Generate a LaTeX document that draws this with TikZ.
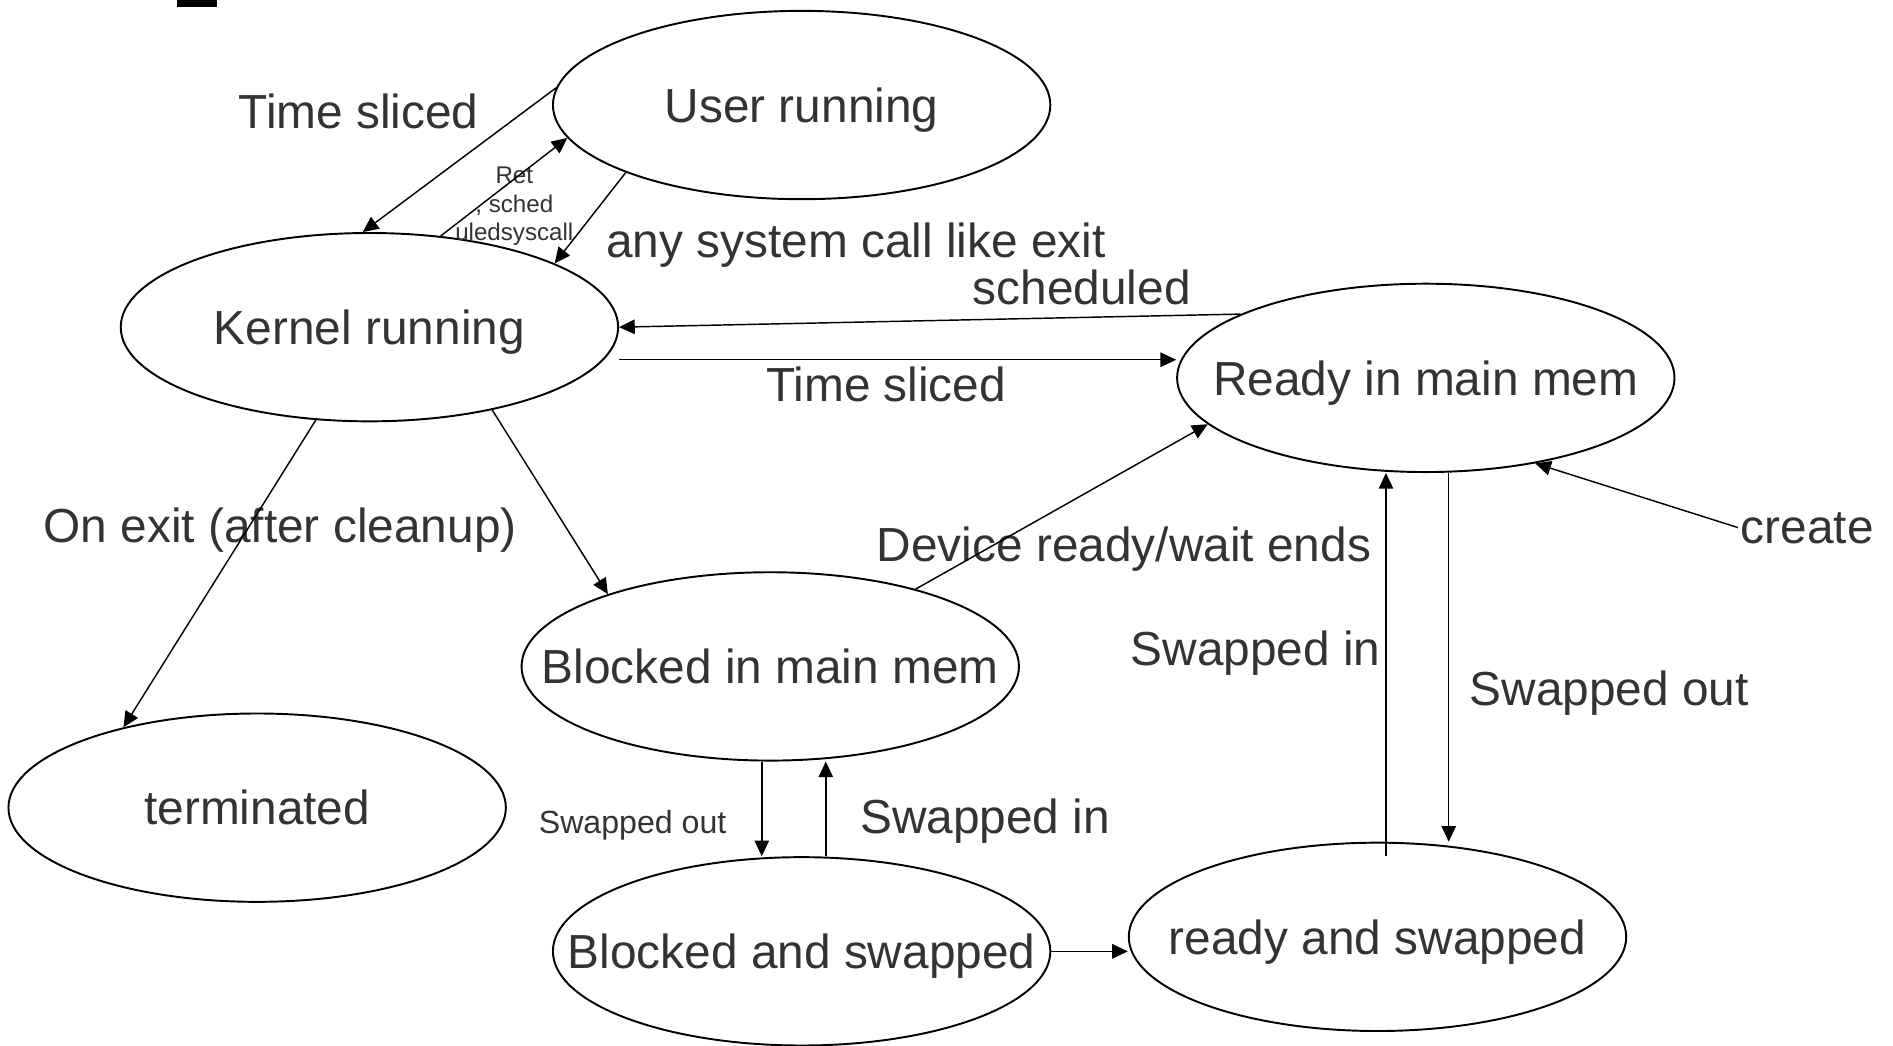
\documentclass[tikz,border=0pt]{standalone}
\usepackage{fontspec}
\setmainfont{Liberation Sans}
\usetikzlibrary{arrows.meta,shapes.geometric}

\begin{document}
\begin{tikzpicture}[x=.5pt,y=-.5pt,
  state/.style={draw,ellipse,line width=.8pt,minimum width=206pt,minimum height=78pt,inner sep=0pt},
  lbl/.style={text=black!80,font=\fontsize{19.8}{23}\selectfont,inner sep=1pt,text depth=0pt},
  tinylbl/.style={text=black!80,font=\fontsize{10}{11.75}\selectfont,inner sep=0pt,align=center},
  tr/.style={line width=.6pt,-{Triangle[length=6.5pt,width=6pt]}}]
\path[use as bounding box] (0,0) rectangle (1568,866);
\fill (147,0) rectangle (180,6);

% process states
\node[state,label={[lbl]center:User running}] (user) at (664,87) {};
\node[state,label={[lbl]center:Kernel running}] (kern) at (306,271) {};
\node[state,label={[lbl]center:Ready in main mem}] (ready) at (1181,313) {};
\node[state,label={[lbl]center:Blocked in main mem}] (blkm) at (638,552) {};
\node[state,label={[lbl]center:terminated}] (term) at (213,669) {};
\node[state,label={[lbl]center:Blocked and swapped}] (blks) at (664,788) {};
\node[state,label={[lbl]center:ready and swapped}] (rdys) at (1141,776) {};

% transition labels
\node[lbl] (tsl1) at (297,92) {Time sliced};
\node[tinylbl] (ret) at (426,171) {Ret\\, sched\\uledsyscall};
\node[lbl] (sysc) at (709,199) {any system call like exit};
\node[lbl] (sched) at (896,238) {scheduled};
\node[lbl] (tsl2) at (734,318) {Time sliced};
\node[lbl] (onexit) at (232,435) {On exit (after cleanup)};
\node[lbl] (devrdy) at (931,451) {Device ready/wait ends};
\node[lbl] (create) at (1497,437) {create};
\node[lbl] (swin1) at (1040,537) {Swapped in};
\node[lbl] (swout1) at (1333,570) {Swapped out};
\node[lbl,font=\fontsize{13.3}{16}\selectfont] (swout2) at (524,681) {Swapped out};
\node[lbl] (swin2) at (816,676) {Swapped in};

% transitions
\draw[tr] (user.176) -- (kern.94);
\draw[tr] (kern.52) -- (user.188);
\draw[tr] (user.201) -- (kern.19);
\draw[tr] (ready.161) -- (kern.east);
\coordinate (ts) at ([yshift=-13.5pt]kern.east);
\draw[tr] (ts) -- (ts -| ready.west);
\draw[tr] (kern.240) -- (term.149);
\draw[tr] (kern.326) -- (blkm.156);
\draw[tr] (blkm.28) -- (ready.192);
\draw[tr] (create.west) -- (ready.322);
\coordinate (rsin) at ([xshift=3.5pt,yshift=-6pt]rdys.north);
\draw[tr] (rsin) -- (rsin |- ready.south);
\coordinate (rsout) at ([xshift=9.5pt]ready.south);
\draw[tr] (rsout) -- (rsout |- rdys.north);
\coordinate (bsout) at ([xshift=-3.5pt]blkm.south);
\draw[tr] (bsout) -- (bsout |- blks.north);
\coordinate (bsin) at ([xshift=10pt]blks.north);
\draw[tr] (bsin) -- (bsin |- blkm.south);
\draw[tr] (blks.east) -- (blks.east -| rdys.west);
\end{tikzpicture}
\end{document}
